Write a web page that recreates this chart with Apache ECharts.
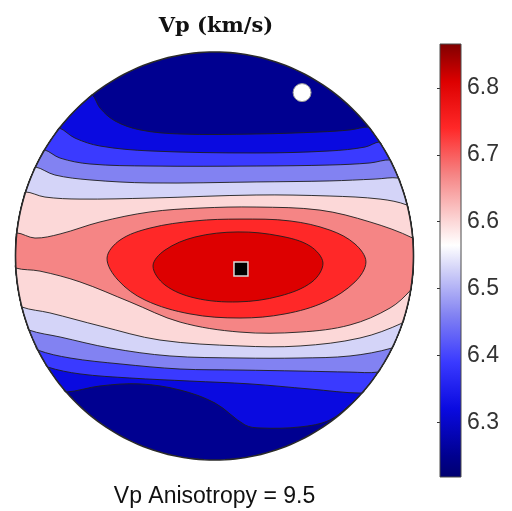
<!DOCTYPE html>
<html><head><meta charset="utf-8">
<script src="https://cdn.jsdelivr.net/npm/echarts@6/dist/echarts.min.js"></script>
<style>html,body{margin:0;padding:0;background:#fff}#c{width:512px;height:511px}</style>
</head><body><div id="c"></div>
<script>
// ---- text ----
const titleText = 'Vp (km/s)';
const anisotropyLabel = 'Vp Anisotropy';
const anisotropyValue = 9.5;

// ---- colour scale ----
const colorbarMin = 6.218;
const colorbarMax = 6.866;
const colorbarTicks = [6.3, 6.4, 6.5, 6.6, 6.7, 6.8];
const cmapValues = [6.218, 6.25, 6.32, 6.39, 6.46, 6.53, 6.565, 6.60, 6.67, 6.74, 6.81, 6.866];
const cmapColors = ['#000070', '#000090', '#0a0ae0', '#3a3aff', '#8282f2', '#d4d4f8', '#ffffff', '#fcd8d8', '#f58585', '#ff2828', '#dd0000', '#800000'];

// value of each filled band, lowest (outer) to highest (inner)
const bandValues = [6.25, 6.32, 6.39, 6.46, 6.53, 6.60, 6.67, 6.74, 6.81];

// contour lines in unit-disk coordinates (x right, y up)
const upper1 = [[-0.613,0.789],[-0.575,0.725],[-0.5,0.662],[-0.374,0.618],[-0.173,0.598],[0.209,0.598],[0.530,0.608],[0.681,0.618],[0.774,0.632]];
const upper2 = [[-0.779,0.627],[-0.701,0.578],[-0.575,0.539],[-0.324,0.515],[0.209,0.505],[0.580,0.515],[0.756,0.534],[0.829,0.559]];
const upper3 = [[-0.854,0.520],[-0.776,0.480],[-0.626,0.451],[-0.324,0.441],[0.209,0.441],[0.580,0.446],[0.781,0.456],[0.882,0.471]];
const upper4 = [[-0.899,0.436],[-0.802,0.397],[-0.626,0.373],[-0.324,0.358],[0.209,0.363],[0.580,0.368],[0.807,0.377],[0.924,0.382]];
const upper5 = [[-0.950,0.314],[-0.852,0.289],[-0.676,0.279],[-0.324,0.284],[0.209,0.299],[0.580,0.294],[0.832,0.279],[0.967,0.250]];
const upper6 = [[-0.993,0.113],[-0.902,0.088],[-0.776,0.108],[-0.575,0.167],[-0.324,0.216],[-0.073,0.235],[0.209,0.240],[0.530,0.225],[0.781,0.167],[0.996,0.088]];

const lower1 = [[-0.746,-0.667],[-0.575,-0.637],[-0.374,-0.627],[-0.173,-0.657],[0.003,-0.721],[0.153,-0.828],[0.229,-0.843],[0.430,-0.838],[0.580,-0.804],[0.691,-0.721]];
const lower2 = [[-0.839,-0.544],[-0.676,-0.578],[-0.425,-0.598],[-0.123,-0.613],[0.178,-0.627],[0.480,-0.652],[0.741,-0.672]];
const lower3 = [[-0.889,-0.461],[-0.726,-0.5],[-0.475,-0.529],[-0.173,-0.554],[0.128,-0.559],[0.430,-0.564],[0.681,-0.569],[0.822,-0.569]];
const lower4 = [[-0.932,-0.363],[-0.776,-0.397],[-0.525,-0.451],[-0.224,-0.490],[0.128,-0.5],[0.430,-0.5],[0.681,-0.490],[0.892,-0.451]];
const lower5 = [[-0.968,-0.25],[-0.827,-0.279],[-0.575,-0.343],[-0.274,-0.412],[0.128,-0.441],[0.430,-0.441],[0.731,-0.402],[0.945,-0.328]];
const lower6 = [[-0.998,-0.059],[-0.877,-0.074],[-0.676,-0.127],[-0.425,-0.225],[-0.173,-0.324],[0.128,-0.373],[0.430,-0.373],[0.681,-0.338],[0.882,-0.255],[0.986,-0.167]];

const closed7 = [[-0.540,-0.010],[-0.475,0.078],[-0.324,0.137],[-0.098,0.172],[0.128,0.181],[0.379,0.172],[0.580,0.127],[0.706,0.059],[0.761,-0.029],[0.706,-0.127],[0.555,-0.225],[0.354,-0.284],[0.128,-0.304],[-0.123,-0.284],[-0.349,-0.216],[-0.485,-0.118]];
const closed8 = [[-0.309,-0.049],[-0.249,0.029],[-0.098,0.093],[0.118,0.118],[0.329,0.098],[0.480,0.049],[0.545,-0.034],[0.490,-0.127],[0.329,-0.196],[0.118,-0.225],[-0.098,-0.206],[-0.249,-0.142]];

const maxPoint = [0.133, -0.064];
const minPoint = [0.440, 0.801];

const upperContours = [upper1, upper2, upper3, upper4, upper5, upper6];
const lowerContours = [lower1, lower2, lower3, lower4, lower5, lower6];
const closedContours = [closed7, closed8];

// ---- helpers ----
function hexToRgb(h){return [parseInt(h.slice(1,3),16),parseInt(h.slice(3,5),16),parseInt(h.slice(5,7),16)];}
function cmap(v){
  if (v <= cmapValues[0]) return cmapColors[0];
  for (let i=1;i<cmapValues.length;i++){
    if (v <= cmapValues[i]){
      const t=(v-cmapValues[i-1])/(cmapValues[i]-cmapValues[i-1]);
      const a=hexToRgb(cmapColors[i-1]), b=hexToRgb(cmapColors[i]);
      return 'rgb('+a.map((c,k)=>Math.round(c+(b[k]-c)*t)).join(',')+')';
    }
  }
  return cmapColors[cmapColors.length-1];
}
function arcPoints(a0,a1){
  const steps=Math.max(2,Math.ceil(Math.abs(a1-a0)/(Math.PI/120)));
  const pts=[];
  for(let s=0;s<=steps;s++){const a=a0+(a1-a0)*s/steps;pts.push([Math.cos(a),Math.sin(a)]);}
  return pts;
}
function ang(p){return Math.atan2(p[1],p[0]);}
function regionPoints(i){
  if(i===0) return arcPoints(0,2*Math.PI).slice(0,-1);
  if(i<=upperContours.length){
    const up=upperContours[i-1], lo=lowerContours[i-1];
    const tr=up[up.length-1], br=lo[lo.length-1], bl=lo[0], tl=up[0];
    const a1=ang(tr), a2=ang(br);
    let a3=ang(bl); if(a3<0)a3+=2*Math.PI;
    let a4=ang(tl); if(a4<0)a4+=2*Math.PI;
    return [].concat(up, arcPoints(a1,a2).slice(1,-1), lo.slice().reverse(), arcPoints(a3,a4).slice(1,-1));
  }
  return closedContours[i-1-upperContours.length];
}

const bandData = bandValues.map((v,i)=>[i,v]);

const chart = echarts.init(document.getElementById('c'), null, {renderer:'canvas'});
chart.setOption({
  animation:false,
  backgroundColor:'#ffffff',
  grid:[
    {left:15.5, top:52, width:398, height:408, show:false},
    {left:440, top:44, width:21, height:433, show:true, borderColor:'#4a4a4a', borderWidth:1, backgroundColor:'transparent', z:5}
  ],
  xAxis:[
    {gridIndex:0, type:'value', min:-1, max:1, show:false},
    {gridIndex:1, type:'value', min:0, max:1, show:false}
  ],
  yAxis:[
    {gridIndex:0, type:'value', min:-1, max:1, show:false},
    {gridIndex:1, type:'value', min:colorbarMin, max:colorbarMax, position:'right',
     axisLine:{show:false}, splitLine:{show:false},
     axisTick:{show:true, inside:true, length:3, customValues:colorbarTicks, lineStyle:{color:'#333', width:1}},
     axisLabel:{show:true, customValues:colorbarTicks, formatter:v=>Number(v).toFixed(1), fontSize:23, color:'#333', margin:6, fontFamily:'Liberation Sans, Arial, sans-serif'}}
  ],
  graphic:[
    {type:'text', x:216, y:27, style:{text:titleText, fill:'#111', font:'bold 21px "DejaVu Serif", serif', textAlign:'center', textVerticalAlign:'middle'}},
    {type:'text', x:214.5, y:497, style:{text:anisotropyLabel+' = '+anisotropyValue, fill:'#111', font:'23px "Liberation Sans", Arial, sans-serif', textAlign:'center', textVerticalAlign:'middle'}}
  ],
  series:[
    {
      type:'custom', xAxisIndex:0, yAxisIndex:0, data:bandData, z:2, silent:true,
      renderItem:function(params, api){
        const i=api.value(0), v=api.value(1);
        const pts=regionPoints(i).map(p=>api.coord(p));
        return {type:'polygon', shape:{points:pts, smooth:i===0?0:0.35},
          style:{fill:cmap(v), stroke:i===0?'none':'#1e1e1e', lineWidth:0.9}};
      }
    },
    {
      type:'custom', xAxisIndex:0, yAxisIndex:0, data:[[0,0]], z:4, silent:true,
      renderItem:function(params, api){
        const pts=arcPoints(0,2*Math.PI).slice(0,-1).map(p=>api.coord(p));
        return {type:'polygon', shape:{points:pts}, style:{fill:'none', stroke:'#2a2a2a', lineWidth:1.6}};
      }
    },
    {
      type:'scatter', xAxisIndex:0, yAxisIndex:0, data:[maxPoint], symbol:'rect', symbolSize:14, z:6, silent:true,
      itemStyle:{color:'#000', opacity:1, borderColor:'#d8d8d8', borderWidth:1.5}
    },
    {
      type:'scatter', xAxisIndex:0, yAxisIndex:0, data:[minPoint], symbol:'circle', symbolSize:18, z:6, silent:true,
      itemStyle:{color:'#fff', opacity:1, borderColor:'#999', borderWidth:1}
    },
    {
      type:'custom', xAxisIndex:1, yAxisIndex:1, data:[[colorbarMin, colorbarMax]], z:3, silent:true,
      renderItem:function(params, api){
        const p0=api.coord([0, api.value(1)]), p1=api.coord([1, api.value(0)]);
        const stops=cmapValues.map((v,k)=>({offset:(v-colorbarMin)/(colorbarMax-colorbarMin), color:cmapColors[k]}));
        return {type:'rect', shape:{x:p0[0], y:p0[1], width:p1[0]-p0[0], height:p1[1]-p0[1]},
          style:{fill:new echarts.graphic.LinearGradient(0,1,0,0,stops)}};
      }
    }
  ]
});
</script></body></html>
